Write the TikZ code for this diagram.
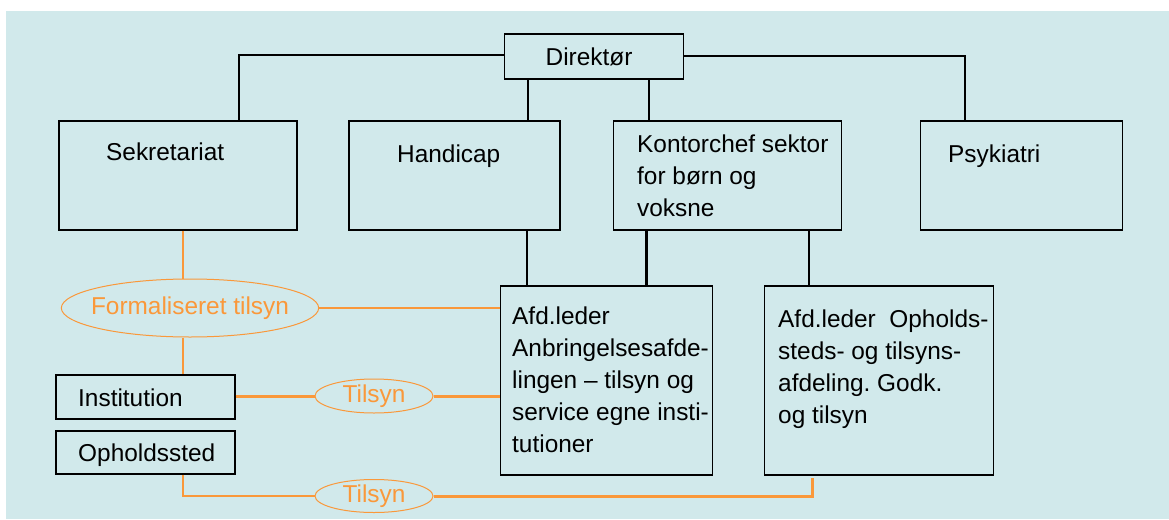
\documentclass[tikz,border=0pt]{standalone}
\usepackage{fontspec}
\setmainfont{Liberation Sans}
\usetikzlibrary{shapes.geometric}
\definecolor{bgblue}{RGB}{209,233,235}
\definecolor{orgline}{RGB}{250,152,58}
\frenchspacing
\begin{document}
\begin{tikzpicture}[x=1pt,y=-1pt,
  box/.style={draw=black,line width=1.2pt,rectangle,inner sep=0pt},
  txt/.style={inner sep=0pt,font=\fontsize{24.4}{32}\selectfont,anchor=base west},
  mtxt/.style={inner sep=0pt,font=\fontsize{24.4}{32}\selectfont,align=left,anchor=north west},
  blk/.style={draw=black,line width=1.6pt},
  blkthick/.style={draw=black,line width=2.6pt},
  org/.style={draw=orgline,line width=1.5pt},
  orgthick/.style={draw=orgline,line width=3pt},
  oval/.style={ellipse,draw=orgline,line width=1pt,inner sep=0pt,text=orgline,font=\fontsize{24.4}{28}\selectfont}
]
\useasboundingbox (0,0) rectangle (1169,519);
\fill[bgblue] (6,11) rectangle (1169,519);

% boxes
\node[box,minimum width=179pt,minimum height=45pt] (dir) at (594,56.5) {};
\node[font=\fontsize{24.4}{28}\selectfont,inner sep=0pt,anchor=base] (dirt) at (589,66) {Direktør};
\node[box,minimum width=238pt,minimum height=109pt] (sek) at (178,175.5) {};
\node[box,minimum width=211pt,minimum height=109pt] (hand) at (454.5,175.5) {};
\node[box,minimum width=228pt,minimum height=109pt] (kont) at (727.5,175.5) {};
\node[box,minimum width=202pt,minimum height=109pt] (psyk) at (1021.5,175.5) {};
\node[box,minimum width=212pt,minimum height=189pt] (afd1) at (606.5,380.5) {};
\node[box,minimum width=229pt,minimum height=189pt] (afd2) at (879,380.5) {};
\node[box,minimum width=179pt,minimum height=44pt] (inst) at (145.5,397) {};
\node[box,minimum width=179pt,minimum height=43pt] (ophs) at (145.5,452.5) {};

% texts
\node[txt] (sekt) at (106,160) {Sekretariat};
\node[txt] (handt) at (397,162) {Handicap};
\node[txt] (psykt) at (948,162) {Psykiatri};
\node[mtxt] (kontt) at (637,134.5) {Kontorchef sektor\\for børn og\\voksne};
\node[mtxt] (afd1t) at (512,306.5) {Afd.leder\\Anbringelsesafde-\\lingen – tilsyn og\\service egne insti-\\tutioner};
\node[mtxt] (afd2t) at (778,309.5) {Afd.leder\ \ Opholds-\\steds- og tilsyns-\\afdeling. Godk.\\og tilsyn};
\node[txt] (instt) at (78,406) {Institution};
\node[txt] (ophst) at (78,461) {Opholdssted};

% ovals
\node[oval,inner xsep=-8pt,inner ysep=9pt,minimum width=256pt,minimum height=58pt] (form) at (190,308) {Formaliseret tilsyn};
\node[oval,minimum width=118pt,minimum height=34pt] (til1) at (374,396) {Tilsyn};
\node[oval,minimum width=118pt,minimum height=33pt] (til2) at (374,496) {Tilsyn};

% black connectors
\draw[blk] (dir.west |- 0,55) -| (sek.north -| 238.7,0);
\draw[blk] (dir.east |- 0,56) -| (psyk.north -| 965,0);
\draw[blk] (dir.south -| 528,0) -- (hand.north -| 528,0);
\draw[blkthick] (dir.south -| 649,0) -- (kont.north -| 649,0);
\draw[blkthick] (hand.south -| 527,0) -- (afd1.north -| 527,0);
\draw[blkthick] (kont.south -| 646.5,0) -- (afd1.north -| 646.5,0);
\draw[blkthick] (kont.south -| 809,0) -- (afd2.north -| 809,0);

% orange connectors
\coordinate (endb) at (812,478);
\draw[org] (sek.south -| 183,0) -- (form.north -| 183,0);
\draw[org] (form.south -| 183,0) -- (inst.north -| 183,0);
\draw[org] (form.east) -- (afd1.west |- form.east);
\draw[orgthick] (inst.east |- til1.west) -- (til1.west);
\draw[orgthick] (til1.east) -- (afd1.west |- til1.east);
\draw[org] (ophs.south -| 183,0) |- (til2.west);
\draw[orgthick] (til2.east) -| (endb);
\end{tikzpicture}
\end{document}
